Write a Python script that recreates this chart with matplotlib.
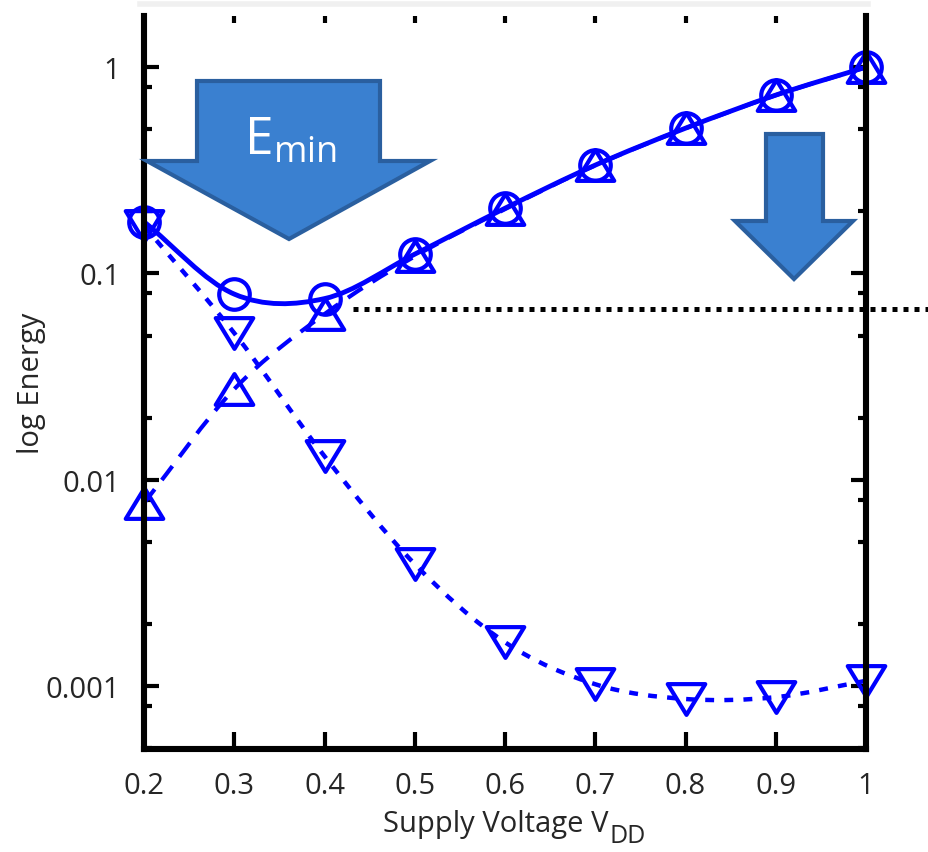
import numpy as np
import matplotlib
matplotlib.use("Agg")
import matplotlib.pyplot as plt
from matplotlib.path import Path
from matplotlib.patches import PathPatch, Polygon
from matplotlib.ticker import FixedLocator, FixedFormatter, LogLocator, NullFormatter

# ==============================
# Data
# ==============================
vdd = [0.2, 0.3, 0.4, 0.5, 0.6, 0.7, 0.8, 0.9, 1.0]
e_total = [0.178, 0.0794, 0.0755, 0.124, 0.207, 0.335, 0.506, 0.732, 1.0]
e_dynamic = [0.0077, 0.0275, 0.0635, 0.121, 0.205, 0.334, 0.505, 0.731, 0.999]
e_leakage = [0.170, 0.0514, 0.0130, 0.0039, 0.00163, 0.00102, 0.000865, 0.000883, 0.00106]

emin_level = 0.067
emin_span = [0.432, 1.09]

x_ticks = [0.2, 0.3, 0.4, 0.5, 0.6, 0.7, 0.8, 0.9, 1.0]
x_ticklabels = ["0.2", "0.3", "0.4", "0.5", "0.6", "0.7", "0.8", "0.9", "1"]
y_ticks = [0.001, 0.01, 0.1, 1]
y_ticklabels = ["0.001", "0.01", "0.1", "1"]

# ==============================
# Style
# ==============================
plt.rcParams["font.family"] = ["Open Sans", "DejaVu Sans"]
plt.rcParams["mathtext.fontset"] = "custom"
plt.rcParams["mathtext.rm"] = "Open Sans"
plt.rcParams["mathtext.it"] = "Open Sans"

BLUE = "#0000ff"
TEXT = "#262626"
ARROW_FILL = "#3a80d0"
ARROW_EDGE = "#2a5f9f"
W, H = 929, 853

# slightly flattened triangles, like the reference markers
tri_up = Path([(0, 0.82), (-1, -0.82), (1, -0.82), (0, 0.82)],
              [Path.MOVETO, Path.LINETO, Path.LINETO, Path.CLOSEPOLY])
tri_down = Path([(0, -0.82), (-1, 0.82), (1, 0.82), (0, -0.82)],
                [Path.MOVETO, Path.LINETO, Path.LINETO, Path.CLOSEPOLY])


def smooth_path(xs, ys):
    # Catmull-Rom -> cubic Bezier control points in (x, log y) space
    pts = np.column_stack([xs, np.log10(ys)])
    pad = np.vstack([2 * pts[0] - pts[1], pts, 2 * pts[-1] - pts[-2]])
    verts = [pts[0]]
    codes = [Path.MOVETO]
    for i in range(1, len(pad) - 2):
        p0, p1, p2, p3 = pad[i - 1], pad[i], pad[i + 1], pad[i + 2]
        verts += [p1 + (p2 - p0) / 6, p2 - (p3 - p1) / 6, p2]
        codes += [Path.CURVE4] * 3
    verts = np.array(verts)
    verts[:, 1] = 10 ** verts[:, 1]
    return Path(verts, codes)


def px(points):
    return [(x / W, 1 - y / H) for x, y in points]


fig = plt.figure(figsize=(W / 100, H / 100), dpi=100)
ax = fig.add_axes([144 / W, 1 - 750 / H, 722 / W, 733 / H])
ax.set_yscale("log")
ax.set_xlim(0.2, 1.0)
ax.set_ylim(4.95e-4, 1.77)

# curves
ax.add_patch(PathPatch(smooth_path(vdd, e_total), transform=ax.transData, fill=False,
                       ec=BLUE, lw=3.5, clip_on=False, zorder=2))
ax.add_patch(PathPatch(smooth_path(vdd, e_dynamic), transform=ax.transData, fill=False,
                       ec=BLUE, lw=3, ls=(0, (4.2, 2.8)), clip_on=False, zorder=2))
ax.add_patch(PathPatch(smooth_path(vdd, e_leakage), transform=ax.transData, fill=False,
                       ec=BLUE, lw=3.2, ls=(0, (2.0, 2.3)), clip_on=False, zorder=2))

# markers
ax.plot(vdd, e_total, ls="none", marker="o", ms=22, mfc="none", mec=BLUE, mew=3,
        clip_on=False, zorder=2.2)
ax.plot(vdd, e_dynamic, ls="none", marker=tri_up, ms=27, mfc="none", mec=BLUE, mew=3,
        clip_on=False, zorder=2.2)
ax.plot(vdd, e_leakage, ls="none", marker=tri_down, ms=27, mfc="none", mec=BLUE, mew=3,
        clip_on=False, zorder=2.2)

# E_min level
ax.plot(emin_span, [emin_level, emin_level], color="black", lw=3.6, ls=(0, (1, 1.2)),
        clip_on=False, zorder=2.1)

# ==============================
# Axes styling
# ==============================
for side in ["left", "right", "bottom"]:
    ax.spines[side].set_linewidth(4.4)
    ax.spines[side].set_color("black")
ax.spines["top"].set_visible(False)

ax.xaxis.set_major_locator(FixedLocator(x_ticks))
ax.xaxis.set_major_formatter(FixedFormatter(x_ticklabels))
ax.xaxis.set_minor_locator(FixedLocator(x_ticks[1:-1]))
ax.xaxis.remove_overlapping_locs = False
ax.yaxis.set_major_locator(FixedLocator(y_ticks))
ax.yaxis.set_major_formatter(FixedFormatter(y_ticklabels))
ax.yaxis.set_minor_locator(LogLocator(base=10, subs=(2, 5, 8)))
ax.yaxis.set_minor_formatter(NullFormatter())

ax.tick_params(axis="x", which="major", direction="in", length=12, width=3,
               top=False, pad=16, labelsize=21, labelcolor=TEXT)
ax.tick_params(axis="x", which="minor", direction="in", length=5, width=3,
               top=True, bottom=False)
ax.tick_params(axis="y", which="major", direction="in", length=11, width=3,
               right=True, pad=17, labelsize=21, labelcolor=TEXT)
ax.tick_params(axis="y", which="minor", direction="in", length=6, width=3, right=True)

ax.set_ylabel("log Energy", fontsize=21, color=TEXT, labelpad=0)

# x label with a large, low subscript as in the reference
xl = fig.text(383 / W, 1 - 832 / H, "Supply Voltage V", fontsize=21, color=TEXT,
              ha="left", va="baseline")
sub = plt.Annotation("DD", xy=(1, 0), xycoords=xl, xytext=(1, -7),
                     textcoords="offset points", fontsize=18, color=TEXT,
                     ha="left", va="bottom")
sub.set_figure(fig)
fig.texts.append(sub)

# faint frame line at the top
fig.add_artist(plt.Line2D([140 / W, 868 / W], [1 - 5 / H, 1 - 5 / H],
                          color="#f0f0f0", lw=4, transform=fig.transFigure))

# ==============================
# Block arrows
# ==============================
big_arrow = px([(197, 82), (380, 82), (380, 162), (430, 162), (289, 240),
                (147, 162), (197, 162)])
small_arrow = px([(766, 135), (823, 135), (823, 222), (853, 222), (794, 280),
                  (735, 222), (766, 222)])
for shape in [big_arrow, small_arrow]:
    fig.add_artist(Polygon(shape, closed=True, transform=fig.transFigure,
                           fc=ARROW_FILL, ec=ARROW_EDGE, lw=3, joinstyle="miter", zorder=5))

fig.text(290 / W, 1 - 155 / H, r"E$_{\mathrm{min}}$", color="white", fontsize=37,
         ha="center", va="baseline", zorder=6)

fig.savefig("out.png", dpi=100)
